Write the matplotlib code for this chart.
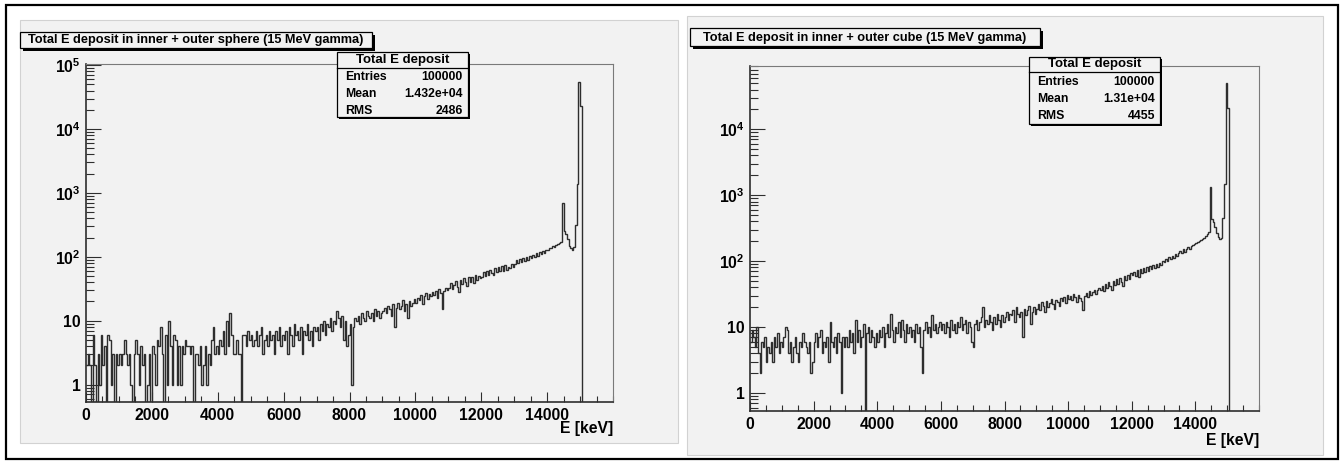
import numpy as np
import matplotlib.pyplot as plt
import matplotlib.patches as patches

W, H = 1343, 462
plt.rcParams['font.family'] = ['Liberation Sans', 'DejaVu Sans']
plt.rcParams['font.weight'] = 'bold'
plt.rcParams['mathtext.fontset'] = 'custom'
plt.rcParams['mathtext.rm'] = 'Liberation Sans:bold'
plt.rcParams['mathtext.it'] = 'Liberation Sans:bold'
plt.rcParams['mathtext.bf'] = 'Liberation Sans:bold'

BIN_W = 50  # keV

# counts per 50 keV bin (0 .. 15050 keV)
sphere_counts = [
    2, 3, 2, 0, 6, 2, 0, 3, 1, 6, 2, 4, 0, 6, 5, 1, 3, 0, 3, 2,
    3, 2, 3, 5, 3, 2, 3, 1, 0, 3, 5, 3, 1, 4, 2, 3, 0, 1, 3, 0,
    4, 3, 1, 5, 4, 8, 3, 0, 6, 1, 10, 4, 1, 6, 5, 1, 4, 1, 4, 3,
    5, 4, 4, 3, 4, 0, 3, 3, 2, 4, 1, 2, 4, 1, 3, 2, 5, 8, 3, 4,
    3, 5, 4, 7, 3, 10, 4, 13, 6, 3, 3, 5, 3, 3, 0, 6, 6, 4, 7, 5,
    6, 4, 5, 7, 4, 6, 8, 3, 5, 6, 4, 7, 5, 6, 3, 7, 5, 8, 4, 6,
    5, 7, 3, 8, 6, 4, 9, 6, 7, 5, 8, 3, 7, 6, 9, 5, 7, 4, 8, 7,
    8, 5, 9, 7, 10, 6, 9, 8, 11, 7, 10, 9, 14, 11, 8, 12, 5, 10, 4, 6,
    9, 1, 8, 11, 10, 12, 9, 13, 11, 10, 14, 12, 11, 13, 10, 15, 12, 14, 11, 13,
    14, 16, 13, 17, 15, 12, 18, 8, 16, 19, 15, 17, 21, 14, 18, 11, 20, 17, 19, 22,
    19, 23, 21, 25, 18, 24, 27, 22, 26, 24, 28, 25, 29, 23, 31, 27, 15, 29, 32, 30,
    33, 39, 31, 36, 42, 34, 28, 44, 37, 46, 40, 35, 48, 41, 49, 39, 52, 43, 50, 46,
    49, 58, 50, 61, 52, 63, 55, 51, 66, 57, 68, 59, 71, 60, 74, 63, 70, 66, 78, 69,
    76, 88, 79, 91, 83, 95, 86, 99, 90, 104, 95, 108, 99, 113, 104, 118, 109, 123, 115, 128,
    130, 138, 135, 145, 142, 152, 158, 165, 172, 690, 250, 230, 190, 150, 135, 130, 140, 320,
    1400, 55000, 23000,
]

cube_counts = [
    6, 9, 7, 5, 10, 4, 2, 6, 5, 7, 3, 5, 4, 6, 3, 7, 5, 8, 4, 6,
    5, 7, 10, 9, 4, 6, 3, 5, 7, 4, 3, 6, 5, 8, 6, 5, 4, 6, 2, 3,
    6, 8, 5, 7, 9, 4, 6, 5, 7, 3, 12, 6, 5, 7, 4, 8, 6, 1, 7, 5,
    7, 5, 9, 6, 8, 4, 13, 6, 9, 5, 7, 11, 0, 8, 10, 6, 9, 7, 5, 8,
    6, 9, 7, 10, 5, 8, 11, 7, 16, 9, 6, 10, 8, 12, 7, 13, 9, 6, 11, 8,
    10, 7, 9, 6, 11, 8, 10, 5, 2, 9, 12, 8, 10, 7, 15, 9, 11, 8, 10, 12,
    9, 11, 8, 12, 10, 7, 13, 9, 11, 8, 12, 10, 14, 9, 11, 13, 8, 12, 10, 6,
    5, 11, 13, 9, 12, 14, 20, 10, 13, 11, 15, 12, 9, 14, 11, 16, 13, 10, 15, 12,
    14, 17, 13, 16, 15, 18, 12, 20, 16, 14, 17, 7, 19, 15, 18, 21, 11, 17, 20, 16,
    19, 22, 18, 24, 21, 17, 25, 20, 23, 27, 22, 19, 26, 24, 21, 28, 25, 29, 23, 31,
    27, 30, 26, 32, 29, 24, 31, 28, 25, 18, 30, 33, 29, 35, 31, 34, 37, 32, 36, 39,
    36, 42, 35, 45, 39, 48, 42, 37, 50, 43, 53, 45, 56, 48, 42, 59, 51, 62, 54, 65,
    61, 68, 60, 73, 58, 75, 66, 78, 69, 81, 72, 85, 75, 88, 78, 91, 82, 95, 86, 99,
    98, 108, 100, 115, 106, 121, 112, 128, 119, 135, 140, 131, 150, 138, 155, 162, 150, 168, 175, 180,
    185, 192, 200, 208, 215, 225, 240, 262, 280, 1330, 440, 390, 330, 270, 230, 215, 225, 450,
    1500, 50000, 21000,
]

titles = ['Total E deposit in inner + outer sphere (15 MeV gamma)',
          'Total E deposit in inner + outer cube (15 MeV gamma)']
stats_title = 'Total E deposit'
stats_labels = ['Entries', 'Mean', 'RMS']
stats_values = [['100000', '1.432e+04', '2486'],
                ['100000', '1.31e+04', '4455']]
x_ticks = [0, 2000, 4000, 6000, 8000, 10000, 12000, 14000]
x_label = 'E [keV]'

CANVAS = '#f2f2f2'
LINE = '#2e2e2e'


def fx(x):
    return x / W


def fy(y):
    return 1 - y / H


def rect(x0, y0, x1, y1, **kw):
    r = patches.Rectangle((fx(x0), fy(y1)), (x1 - x0) / W, (y1 - y0) / H,
                          transform=fig.transFigure, **kw)
    fig.add_artist(r)
    return r


def pave(x0, y0, x1, y1, shadow=2.5):
    rect(x0 + shadow, y0 + shadow, x1 + shadow, y1 + shadow,
         facecolor='black', edgecolor='none', zorder=5)
    rect(x0, y0, x1, y1, facecolor=CANVAS, edgecolor='black', lw=0.9, zorder=5)


fig = plt.figure(figsize=(W / 100, H / 100), dpi=100)
fig.patch.set_facecolor('white')

# outer frame and the two ROOT canvases
rect(6, 5, 1338, 459, facecolor='none', edgecolor='black', lw=1.6, zorder=8)
rect(20, 20, 678, 443, facecolor=CANVAS, edgecolor='#d2d2d2', lw=0.8, zorder=-5)
rect(687, 16, 1323, 455, facecolor=CANVAS, edgecolor='#d2d2d2', lw=0.8, zorder=-5)

panels = [
    dict(counts=sphere_counts, px=(86, 613, 64, 402), ylim=(0.534, 1.04e5), top_dec=5,
         title_box=(20, 32, 372, 48), stats_box=(337, 52, 468, 117), sep=68,
         rows=(60, 77, 94, 111), xlab_y=429),
    dict(counts=cube_counts, px=(750, 1259, 66, 411), ylim=(0.533, 9.1e4), top_dec=4,
         title_box=(690, 28, 1040, 46), stats_box=(1029, 57, 1160, 124), sep=72,
         rows=(64.5, 82, 99, 116), xlab_y=440),
]

for i, p in enumerate(panels):
    x0, x1, y0, y1 = p['px']
    ax = fig.add_axes([fx(x0), fy(y1), (x1 - x0) / W, (y1 - y0) / H])
    ax.set_facecolor('none')

    counts = np.array(p['counts'], dtype=float)
    edges = np.arange(len(counts) + 1) * BIN_W
    # empty bins fall below the log axis, like ROOT draws them
    vals = np.append(np.where(counts > 0, counts, 1e-3), 1e-3)
    edges = np.append(edges, 16000)
    ax.stairs(vals, edges, baseline=None, color=LINE, lw=1.0)

    ax.set_yscale('log')
    ax.set_xlim(0, 16000)

    ax.set_xticks(x_ticks, labels=[str(v) for v in x_ticks])
    ax.set_xticks(np.arange(0, 16001, 500), minor=True)
    decs = [10.0 ** k for k in range(0, p['top_dec'] + 1)]
    ylabels = ['1', '10'] + [r'$10^{%d}$' % k for k in range(2, p['top_dec'] + 1)]
    ax.set_yticks(decs, labels=ylabels)
    ax.set_yticks([m * 10.0 ** k for k in range(-1, p['top_dec'] + 1) for m in range(2, 10)],
                  minor=True)
    ax.yaxis.set_minor_formatter(plt.NullFormatter())
    ax.set_ylim(*p['ylim'])

    ax.tick_params(axis='x', which='major', direction='in', length=7.5, width=0.8,
                   color=LINE, labelsize=11.3, pad=4)
    ax.tick_params(axis='x', which='minor', direction='in', length=4.2, width=0.8, color=LINE)
    ax.tick_params(axis='y', which='major', direction='in', length=11, width=0.8,
                   color=LINE, labelsize=11.3, pad=4)
    ax.tick_params(axis='y', which='minor', direction='in', length=5.5, width=0.8, color=LINE)
    for side in ('left', 'bottom'):
        ax.spines[side].set_color(LINE)
        ax.spines[side].set_linewidth(1.2)
    for side in ('top', 'right'):
        ax.spines[side].set_color('#7a7a7a')
        ax.spines[side].set_linewidth(0.8)

    fig.text(fx(x1), fy(p['xlab_y']), x_label, ha='right', va='center',
             fontsize=11.3, fontweight='bold')

    # title pave
    tx0, ty0, tx1, ty1 = p['title_box']
    pave(tx0, ty0, tx1, ty1, shadow=3)
    fig.text(fx((tx0 + tx1) / 2), fy((ty0 + ty1) / 2 + 0.5), titles[i], ha='center',
             va='center', fontsize=9.2, fontweight='bold', zorder=6)

    # stats pave
    sx0, sy0, sx1, sy1 = p['stats_box']
    pave(sx0, sy0, sx1, sy1, shadow=2)
    fig.add_artist(plt.Line2D([fx(sx0), fx(sx1)], [fy(p['sep']), fy(p['sep'])],
                              transform=fig.transFigure, color='black', lw=0.9, zorder=6))
    fig.text(fx((sx0 + sx1) / 2), fy(p['rows'][0]), stats_title, ha='center', va='center',
             fontsize=9.5, fontweight='bold', zorder=6)
    for lab, val, ry in zip(stats_labels, stats_values[i], p['rows'][1:]):
        fig.text(fx(sx0 + 8), fy(ry), lab, ha='left', va='center', fontsize=8.8,
                 fontweight='bold', zorder=6)
        fig.text(fx(sx1 - 5), fy(ry), val, ha='right', va='center', fontsize=8.8,
                 fontweight='bold', zorder=6)

fig.savefig('out.png', dpi=100)
